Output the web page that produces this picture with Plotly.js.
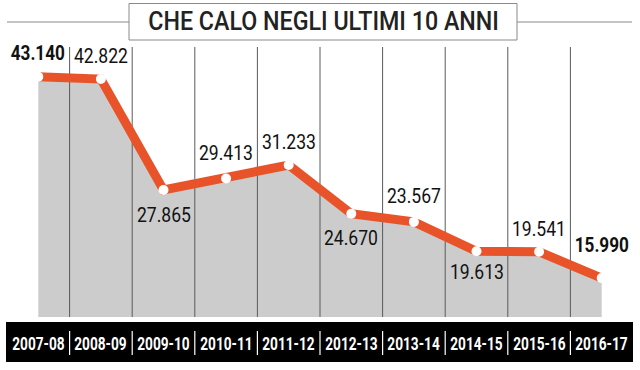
<!DOCTYPE html>
<html>
<head>
<meta charset="utf-8">
<script src="https://cdn.plot.ly/plotly-3.0.1.min.js"></script>
<style>html,body{margin:0;padding:0;background:#fff;}#chart{width:640px;height:370px;}</style>
</head>
<body>
<div id="chart"></div>
<script>
// ---- data ----
const seasons = ["2007-08","2008-09","2009-10","2010-11","2011-12","2012-13","2013-14","2014-15","2015-16","2016-17"];
const values = [43140, 42822, 27865, 29413, 31233, 24670, 23567, 19613, 19541, 15990];
const titleText = "CHE CALO NEGLI ULTIMI 10 ANNI";

// ---- styles / label placement ----
const labelShift = [23, 23, -25, 25, 23, -25, 25, -21, 22, 33];
const labelBold = [true, false, false, false, false, false, false, false, false, true];
const yRange = [10750, 47140];
const ORANGE = "#e8532a";
const GRAY = "#cccccc";
const FONT = "Roboto, 'Liberation Sans', sans-serif";

function fmt(v){
  const s = String(Math.round(v));
  return s.replace(/\B(?=(\d{3})+(?!\d))/g, ".");
}

const xIdx = seasons.map((_, i) => i);

// separators between categories
const gx = [], gy = [];
for (let i = 0; i < seasons.length - 1; i++) {
  gx.push(i + 0.5, i + 0.5, null);
  gy.push(yRange[0], yRange[1], null);
}

const traces = [
  { x: xIdx, y: values, type: "scatter", mode: "none", fill: "tozeroy",
    fillcolor: GRAY, hoverinfo: "skip", showlegend: false },
  { x: gx, y: gy, type: "scatter", mode: "lines",
    line: { color: "#5a5a5a", width: 1 }, hoverinfo: "skip", showlegend: false },
  { x: xIdx, y: values, type: "scatter", mode: "lines+markers",
    line: { color: ORANGE, width: 9 },
    marker: { color: "#ffffff", size: 10, line: { width: 0 } },
    cliponaxis: false, hoverinfo: "skip", showlegend: false }
];

const pw = 626, ph = 270, ml = 7, mt = 47;
const px = p => (p - ml) / pw;          // pixel x -> paper
const py = p => (mt + ph - p) / ph;     // pixel y -> paper

const annotations = [];
const squeeze = [];
values.forEach((v, i) => {
  annotations.push({
    x: i, y: v, xref: "x", yref: "y", showarrow: false,
    text: labelBold[i] ? "<b>" + fmt(v) + "</b>" : fmt(v),
    yshift: labelShift[i], xanchor: "center", yanchor: "middle",
    font: { family: FONT, size: 19.5, color: "#111" }
  });
  squeeze.push(labelBold[i] ? 0.88 : 0.9);
});
seasons.forEach((s, i) => {
  annotations.push({
    x: i, y: py(343), xref: "x", yref: "paper", showarrow: false,
    text: s, xanchor: "center", yanchor: "middle",
    font: { family: FONT, size: 19, color: "#ffffff", weight: "bold" }
  });
  squeeze.push(0.72);
});
annotations.push({
  x: px(323), y: py(21.5), xref: "paper", yref: "paper", showarrow: false,
  text: titleText, xanchor: "center", yanchor: "middle",
  font: { family: FONT, size: 25, color: "#222", weight: 500 }
});
squeeze.push(0.93);

const shapes = [
  { type: "line", xref: "paper", yref: "paper", x0: px(7), x1: px(129), y0: py(22), y1: py(22),
    line: { color: "#8a8a8a", width: 1 } },
  { type: "line", xref: "paper", yref: "paper", x0: px(517), x1: px(632), y0: py(22), y1: py(22),
    line: { color: "#8a8a8a", width: 1 } },
  { type: "rect", xref: "paper", yref: "paper", x0: px(129), x1: px(517), y0: py(40), y1: py(3.5),
    fillcolor: "#ffffff", line: { color: "#8a8a8a", width: 1 } },
  { type: "rect", xref: "paper", yref: "paper", x0: px(6), x1: px(633), y0: py(362), y1: py(322),
    fillcolor: "#000000", line: { width: 0 } }
];
for (let i = 0; i < seasons.length - 1; i++) {
  shapes.push({ type: "line", xref: "x", yref: "paper", x0: i + 0.5, x1: i + 0.5,
    y0: py(355), y1: py(331), line: { color: "#ffffff", width: 1.2 } });
}

const layout = {
  width: 640, height: 370,
  margin: { l: ml, r: 640 - ml - pw, t: mt, b: 370 - mt - ph, pad: 0 },
  paper_bgcolor: "#ffffff", plot_bgcolor: "#ffffff",
  showlegend: false,
  xaxis: { range: [-0.5, 9.5], showgrid: false, zeroline: false, showticklabels: false,
           showline: false, ticks: "", fixedrange: true },
  yaxis: { range: yRange, showgrid: false, zeroline: false, showticklabels: false,
           showline: false, ticks: "", fixedrange: true },
  shapes: shapes,
  annotations: annotations
};

Plotly.newPlot("chart", traces, layout, { displayModeBar: false, staticPlot: true }).then(() => {
  // condense the text horizontally (the original uses a condensed typeface)
  document.querySelectorAll("#chart g.annotation").forEach(g => {
    const idx = +g.getAttribute("data-index");
    const t = g.querySelector("text.annotation-text");
    if (!t || squeeze[idx] === undefined) return;
    t.style.transformBox = "fill-box";
    t.style.transformOrigin = "center";
    t.style.transform = "scaleX(" + squeeze[idx] + ")";
  });
});
</script>
</body>
</html>
